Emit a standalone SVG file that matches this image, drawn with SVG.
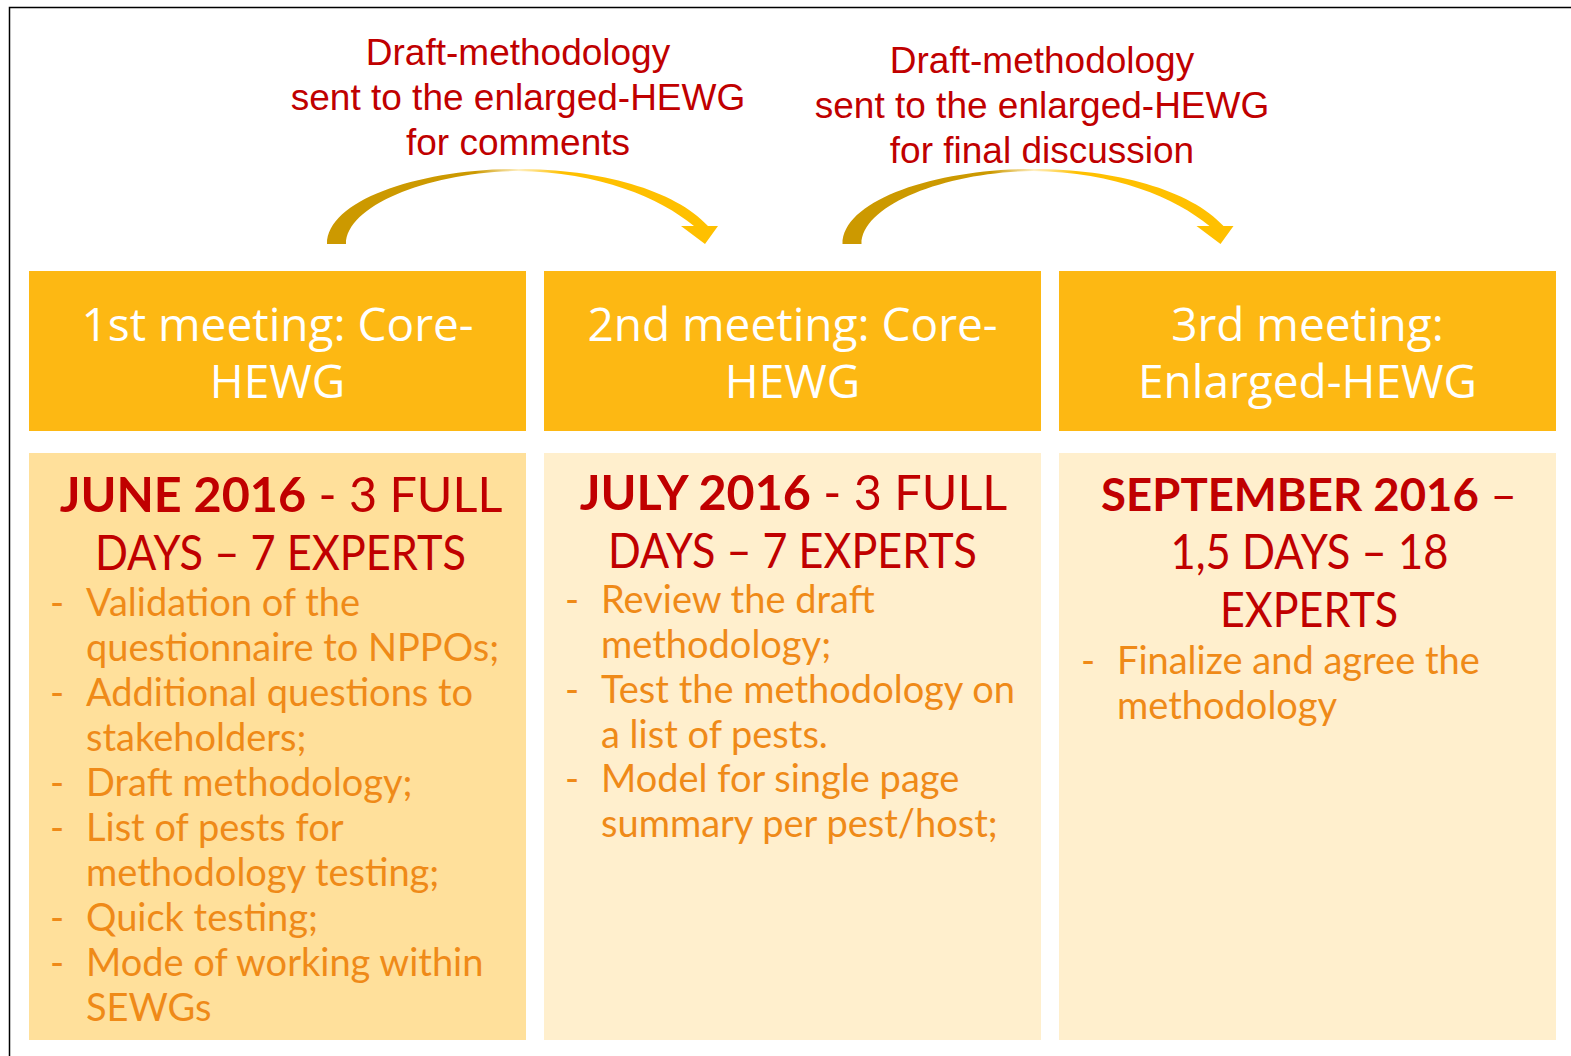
<svg xmlns="http://www.w3.org/2000/svg" width="1571" height="1056" viewBox="0 0 1571 1056">
<style>
.hdr{fill:#FDB813}
.c1{fill:#FFE09B}
.c2{fill:#FFEFCD}
.ht{font-family:"Open Sans","Noto Sans",sans-serif;font-size:46px;fill:#fff;text-anchor:middle}
.dt{font-family:Lato,"Noto Sans",sans-serif;font-size:49px;fill:#C00000;text-anchor:middle}
.b{font-weight:700}
.it{font-family:Lato,"Noto Sans",sans-serif;font-size:38px;fill:#EF8A18}
.lb{font-family:"Liberation Sans",Arial,sans-serif;font-size:37px;fill:#C00000;text-anchor:middle}
</style>
<defs>
<linearGradient id="ag" x1="0" y1="0" x2="1" y2="0">
<stop offset="0" stop-color="#CC9900"/>
<stop offset="0.38" stop-color="#CC9900"/>
<stop offset="0.49" stop-color="#FFF0C4"/>
<stop offset="0.6" stop-color="#FFC000"/>
<stop offset="1" stop-color="#FFC000"/>
</linearGradient>
<path id="arc" fill="url(#ag)" d="M327,244 C327,200 420,169 517,169 C600,169 675,190 708,226 L718,226 L705,244 L681,226 L694,226 C660,198 600,172 517,171 C430,172 346,205 346,244 Z"/>
</defs>
<rect width="1571" height="1056" fill="#fff"/>
<path d="M9.5,1056 V7.5 H1571" fill="none" stroke="#000" stroke-width="1.5"/>

<g id="connectors">
<use href="#arc"/>
<use href="#arc" transform="translate(515.5,0)"/>
</g>

<g id="label1">
<text class="lb" x="518" y="65">Draft-methodology</text>
<text class="lb" x="518" y="110">sent to the enlarged-HEWG</text>
<text class="lb" x="518" y="155">for comments</text>
</g>
<g id="label2">
<text class="lb" x="1042" y="73">Draft-methodology</text>
<text class="lb" x="1042" y="118">sent to the enlarged-HEWG</text>
<text class="lb" x="1042" y="163">for final discussion</text>
</g>

<g id="header1">
<rect class="hdr" x="29" y="271" width="497" height="160"/>
<text class="ht" x="277.5" y="341">1st meeting: Core-</text>
<text class="ht" x="277.5" y="398">HEWG</text>
</g>
<g id="header2">
<rect class="hdr" x="544" y="271" width="497" height="160"/>
<text class="ht" x="792.5" y="341">2nd meeting: Core-</text>
<text class="ht" x="792.5" y="398">HEWG</text>
</g>
<g id="header3">
<rect class="hdr" x="1059" y="271" width="497" height="160"/>
<text class="ht" x="1307.5" y="341">3rd meeting:</text>
<text class="ht" x="1307.5" y="398">Enlarged-HEWG</text>
</g>

<g id="details1">
<rect class="c1" x="29" y="453" width="497" height="587"/>
<text class="dt" x="281" y="512" style="font-size:48.5px"><tspan class="b">JUNE 2016</tspan> - 3 FULL</text>
<text class="dt" x="280.5" y="570" textLength="371" lengthAdjust="spacingAndGlyphs">DAYS – 7 EXPERTS</text>
<g class="it">
<text x="50" y="616">-</text><text x="86" y="616">Validation of the</text>
<text x="86" y="661">questionnaire to NPPOs;</text>
<text x="50" y="706">-</text><text x="86" y="706">Additional questions to</text>
<text x="86" y="751">stakeholders;</text>
<text x="50" y="796">-</text><text x="86" y="796">Draft methodology;</text>
<text x="50" y="841">-</text><text x="86" y="841">List of pests for</text>
<text x="86" y="886">methodology testing;</text>
<text x="50" y="931">-</text><text x="86" y="931">Quick testing;</text>
<text x="50" y="976">-</text><text x="86" y="976">Mode of working within</text>
<text x="86" y="1021">SEWGs</text>
</g>
</g>

<g id="details2">
<rect class="c2" x="544" y="453" width="497" height="587"/>
<text class="dt" x="793.5" y="510" style="font-size:48.5px"><tspan class="b">JULY 2016</tspan> - 3 FULL</text>
<text class="dt" x="792.5" y="568" textLength="369" lengthAdjust="spacingAndGlyphs">DAYS – 7 EXPERTS</text>
<g class="it">
<text x="565" y="613">-</text><text x="601" y="613">Review the draft</text>
<text x="601" y="658">methodology;</text>
<text x="565" y="703">-</text><text x="601" y="703">Test the methodology on</text>
<text x="601" y="748">a list of pests.</text>
<text x="565" y="792">-</text><text x="601" y="792">Model for single page</text>
<text x="601" y="837">summary per pest/host;</text>
</g>
</g>

<g id="details3">
<rect class="c2" x="1059" y="453" width="497" height="587"/>
<text class="dt" x="1309" y="511" style="font-size:45.5px"><tspan class="b">SEPTEMBER 2016</tspan> –</text>
<text class="dt" x="1309.5" y="569" textLength="278" lengthAdjust="spacingAndGlyphs">1,5 DAYS – 18</text>
<text class="dt" x="1309" y="627" textLength="178" lengthAdjust="spacingAndGlyphs">EXPERTS</text>
<g class="it">
<text x="1081" y="674">-</text><text x="1117" y="674">Finalize and agree the</text>
<text x="1117" y="719">methodology</text>
</g>
</g>
</svg>
